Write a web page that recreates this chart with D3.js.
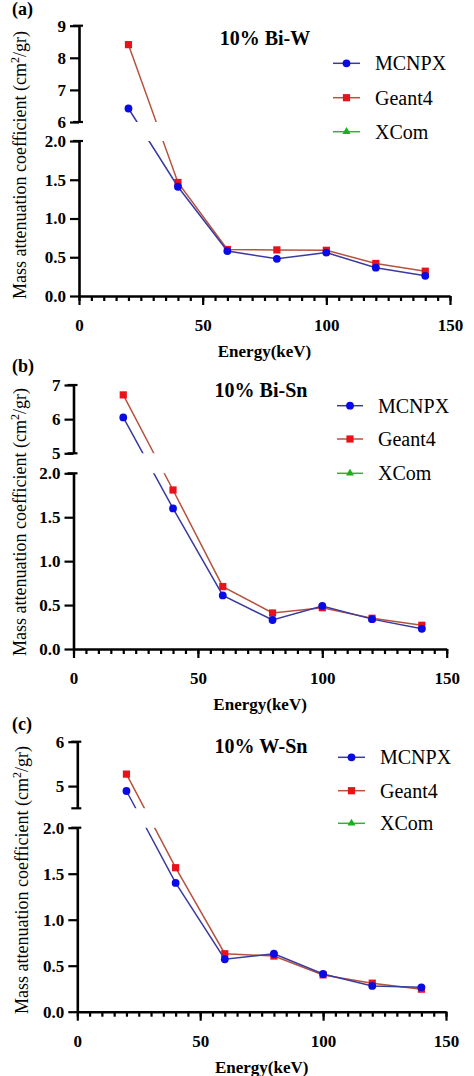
<!DOCTYPE html>
<html>
<head>
<meta charset="utf-8">
<script src="https://cdn.jsdelivr.net/npm/d3@7/dist/d3.min.js"></script>
<style>
  html, body { margin: 0; padding: 0; background: #fff; }
  svg { display: block; }
</style>
</head>
<body>
<svg id="chart" width="474" height="1076"></svg>
<script>
// ---------------- DATA ----------------
const energies = [20, 40, 60, 80, 100, 120, 140];

const seriesNames = ["MCNPX", "Geant4", "XCom"];

// (a) 10% Bi-W
const mcnpxBiW  = [6.42, 1.41, 0.58, 0.48, 0.56, 0.365, 0.26];
const geant4BiW = [8.41, 1.465, 0.60, 0.595, 0.59, 0.42, 0.32];
const xcomBiW   = []; // listed in legend, no visible points

// (b) 10% Bi-Sn
const mcnpxBiSn  = [6.05, 1.60, 0.61, 0.33, 0.49, 0.34, 0.23];
const geant4BiSn = [6.71, 1.81, 0.71, 0.41, 0.47, 0.35, 0.27];
const xcomBiSn   = [];

// (c) 10% W-Sn
const mcnpxWSn  = [4.89, 1.40, 0.57, 0.63, 0.41, 0.28, 0.265];
const geant4WSn = [5.27, 1.565, 0.63, 0.605, 0.40, 0.31, 0.245];
const xcomWSn   = [];

// axis ticks
const xTicks      = [0, 50, 100, 150];
const xMinorTicks = d3.range(0, 151, 5);
const lowerTicks  = [0.0, 0.5, 1.0, 1.5, 2.0];
const lowerDomain = [0, 2];
const upperDomainBiW = [6, 9], upperTicksBiW = [6, 7, 8, 9];
const upperDomainBiSn = [5, 7], upperTicksBiSn = [5, 6, 7];
const upperDomainWSn = [4.5, 6], upperTicksWSn = [5, 6];

const titles = ["10% Bi-W", "10% Bi-Sn", "10% W-Sn"];
const panelLabels = ["(a)", "(b)", "(c)"];

// ---------------- STYLE / LAYOUT ----------------
const FONT = "'Liberation Serif'";
const colors = {
  MCNPX:  { line: "#3b3b9e", mark: "#0a0ae6" },
  Geant4: { line: "#b5533f", mark: "#e8121b" },
  XCom:   { line: "#3daa3d", mark: "#19b019" }
};

const layouts = [
  { x0: 79,   x1: 450,   upR: [122, 25.7],  loR: [296, 141],   lab: 15,  title: [265, 45],
    leg: { x0: 333, x1: 360, tx: 375, ys: [63.3, 97.7, 131.7] }, ytitle: [20, 165] },
  { x0: 73.5, x1: 446.7, upR: [453.3, 385], loR: [649, 473.3], lab: 372, title: [261, 397],
    leg: { x0: 337, x1: 363, tx: 378, ys: [405.7, 439, 473.3] }, ytitle: [20, 522] },
  { x0: 77.3, x1: 446,   upR: [808.3, 741.7], loR: [1011.7, 827.7], lab: 730, title: [261, 752.5],
    leg: { x0: 338, x1: 365, tx: 380, ys: [757.3, 790.7, 823.3] }, ytitle: [22, 880] }
];

const panels = [
  { mc: mcnpxBiW,  g4: geant4BiW,  xc: xcomBiW,  upD: upperDomainBiW,  upT: upperTicksBiW },
  { mc: mcnpxBiSn, g4: geant4BiSn, xc: xcomBiSn, upD: upperDomainBiSn, upT: upperTicksBiSn },
  { mc: mcnpxWSn,  g4: geant4WSn,  xc: xcomWSn,  upD: upperDomainWSn,  upT: upperTicksWSn }
];

const svg = d3.select("#chart");
const defs = svg.append("defs");

function txt(sel) { return sel.append("text").style("font-family", FONT).attr("fill", "#000"); }

function marker(sel, name, x, y) {
  const c = colors[name].mark;
  if (name === "MCNPX") {
    sel.append("circle").attr("cx", x).attr("cy", y).attr("r", 3.9).attr("fill", c);
  } else if (name === "Geant4") {
    sel.append("rect").attr("x", x - 3.6).attr("y", y - 3.6).attr("width", 7.2).attr("height", 7.2).attr("fill", c);
  } else {
    sel.append("path").attr("transform", `translate(${x},${y})`)
      .attr("d", d3.symbol(d3.symbolTriangle, 28)()).attr("fill", c);
  }
}

panels.forEach((p, i) => {
  const L = layouts[i];
  const g = svg.append("g");

  const x = d3.scaleLinear().domain([0, 150]).range([L.x0, L.x1]);
  const yUp = d3.scaleLinear().domain(p.upD).range(L.upR);
  const yLo = d3.scaleLinear().domain(lowerDomain).range(L.loR);
  const yPos = v => (v > lowerDomain[1] ? yUp(v) : yLo(v));

  // clip: union of upper and lower segments (lines crossing the break are cut)
  const cid = "clip" + i;
  const cp = defs.append("clipPath").attr("id", cid);
  cp.append("rect").attr("x", L.x0).attr("y", L.upR[1] - 30).attr("width", L.x1 - L.x0 + 10)
    .attr("height", L.upR[0] - (L.upR[1] - 30));
  cp.append("rect").attr("x", L.x0).attr("y", L.loR[1]).attr("width", L.x1 - L.x0 + 10)
    .attr("height", L.loR[0] - L.loR[1]);

  // y axes
  const axUp = g.append("g").attr("transform", `translate(${L.x0},0)`)
    .call(d3.axisLeft(yUp).tickValues(p.upT).tickSize(9).tickSizeOuter(0).tickPadding(4).tickFormat(d3.format("d")));
  const axLo = g.append("g").attr("transform", `translate(${L.x0},0)`)
    .call(d3.axisLeft(yLo).tickValues(lowerTicks).tickSize(9).tickSizeOuter(0).tickPadding(4).tickFormat(d3.format(".1f")));
  // x axis
  const axX = g.append("g").attr("transform", `translate(0,${L.loR[0]})`)
    .call(d3.axisBottom(x).tickValues(xTicks).tickSize(9).tickSizeOuter(0).tickPadding(14).tickFormat(d3.format("d")));
  const axXm = g.append("g").attr("transform", `translate(0,${L.loR[0]})`)
    .call(d3.axisBottom(x).tickValues(xMinorTicks).tickSize(5).tickSizeOuter(0).tickFormat(""));
  axXm.select(".domain").remove();

  [axUp, axLo, axX, axXm].forEach(a => {
    a.attr("font-family", null);
    a.select(".domain").attr("stroke", "#000").attr("stroke-width", 2.6);
    a.selectAll(".tick line").attr("stroke", "#000").attr("stroke-width", 2.2);
    a.selectAll(".tick text").style("font-family", FONT)
      .attr("font-weight", "bold").attr("font-size", 17).attr("fill", "#000");
  });

  // segment end caps (break style)
  [L.upR[0], L.upR[1], L.loR[1]].forEach(yy => {
    g.append("line").attr("x1", L.x0 - 6).attr("x2", L.x0 + 4).attr("y1", yy).attr("y2", yy)
      .attr("stroke", "#000").attr("stroke-width", 2.2);
  });

  // series
  const series = [
    { name: "XCom", vals: p.xc },
    { name: "Geant4", vals: p.g4 },
    { name: "MCNPX", vals: p.mc }
  ];
  const line = d3.line().x(d => x(d.e)).y(d => yPos(d.v));
  series.forEach(s => {
    const pts = s.vals.map((v, k) => ({ e: energies[k], v }));
    if (!pts.length) return;
    g.append("path").datum(pts).attr("d", line).attr("fill", "none")
      .attr("stroke", colors[s.name].line).attr("stroke-width", 1.5)
      .attr("clip-path", `url(#${cid})`);
    const mg = g.append("g");
    pts.forEach(d => marker(mg, s.name, x(d.e), yPos(d.v)));
  });

  // title
  txt(g).attr("x", L.title[0]).attr("y", L.title[1]).attr("text-anchor", "middle")
    .attr("font-weight", "bold").attr("font-size", 20).text(titles[i]);
  // panel label
  txt(g).attr("x", 12).attr("y", L.lab).attr("font-weight", "bold").attr("font-size", 18)
    .text(panelLabels[i]);
  // x title
  txt(g).attr("x", (L.x0 + L.x1) / 2).attr("y", L.loR[0] + 61).attr("text-anchor", "middle")
    .attr("font-weight", "bold").attr("font-size", 17).text("Energy(keV)");
  // y title
  const yt = txt(g).attr("transform", `translate(${L.ytitle[0] + 6},${L.ytitle[1]}) rotate(-90)`)
    .attr("text-anchor", "middle").attr("font-size", 18);
  yt.append("tspan").text("Mass attenuation coefficient (cm");
  yt.append("tspan").attr("font-size", 12).attr("dy", -7).text("2");
  yt.append("tspan").attr("dy", 7).text("/gr)");

  // legend
  seriesNames.forEach((n, k) => {
    const yy = L.leg.ys[k];
    g.append("line").attr("x1", L.leg.x0).attr("x2", L.leg.x1).attr("y1", yy).attr("y2", yy)
      .attr("stroke", colors[n].line).attr("stroke-width", 1.5);
    marker(g, n, (L.leg.x0 + L.leg.x1) / 2, yy);
    txt(g).attr("x", L.leg.tx).attr("y", yy + 7).attr("font-size", 20).text(n);
  });
});
</script>
</body>
</html>
